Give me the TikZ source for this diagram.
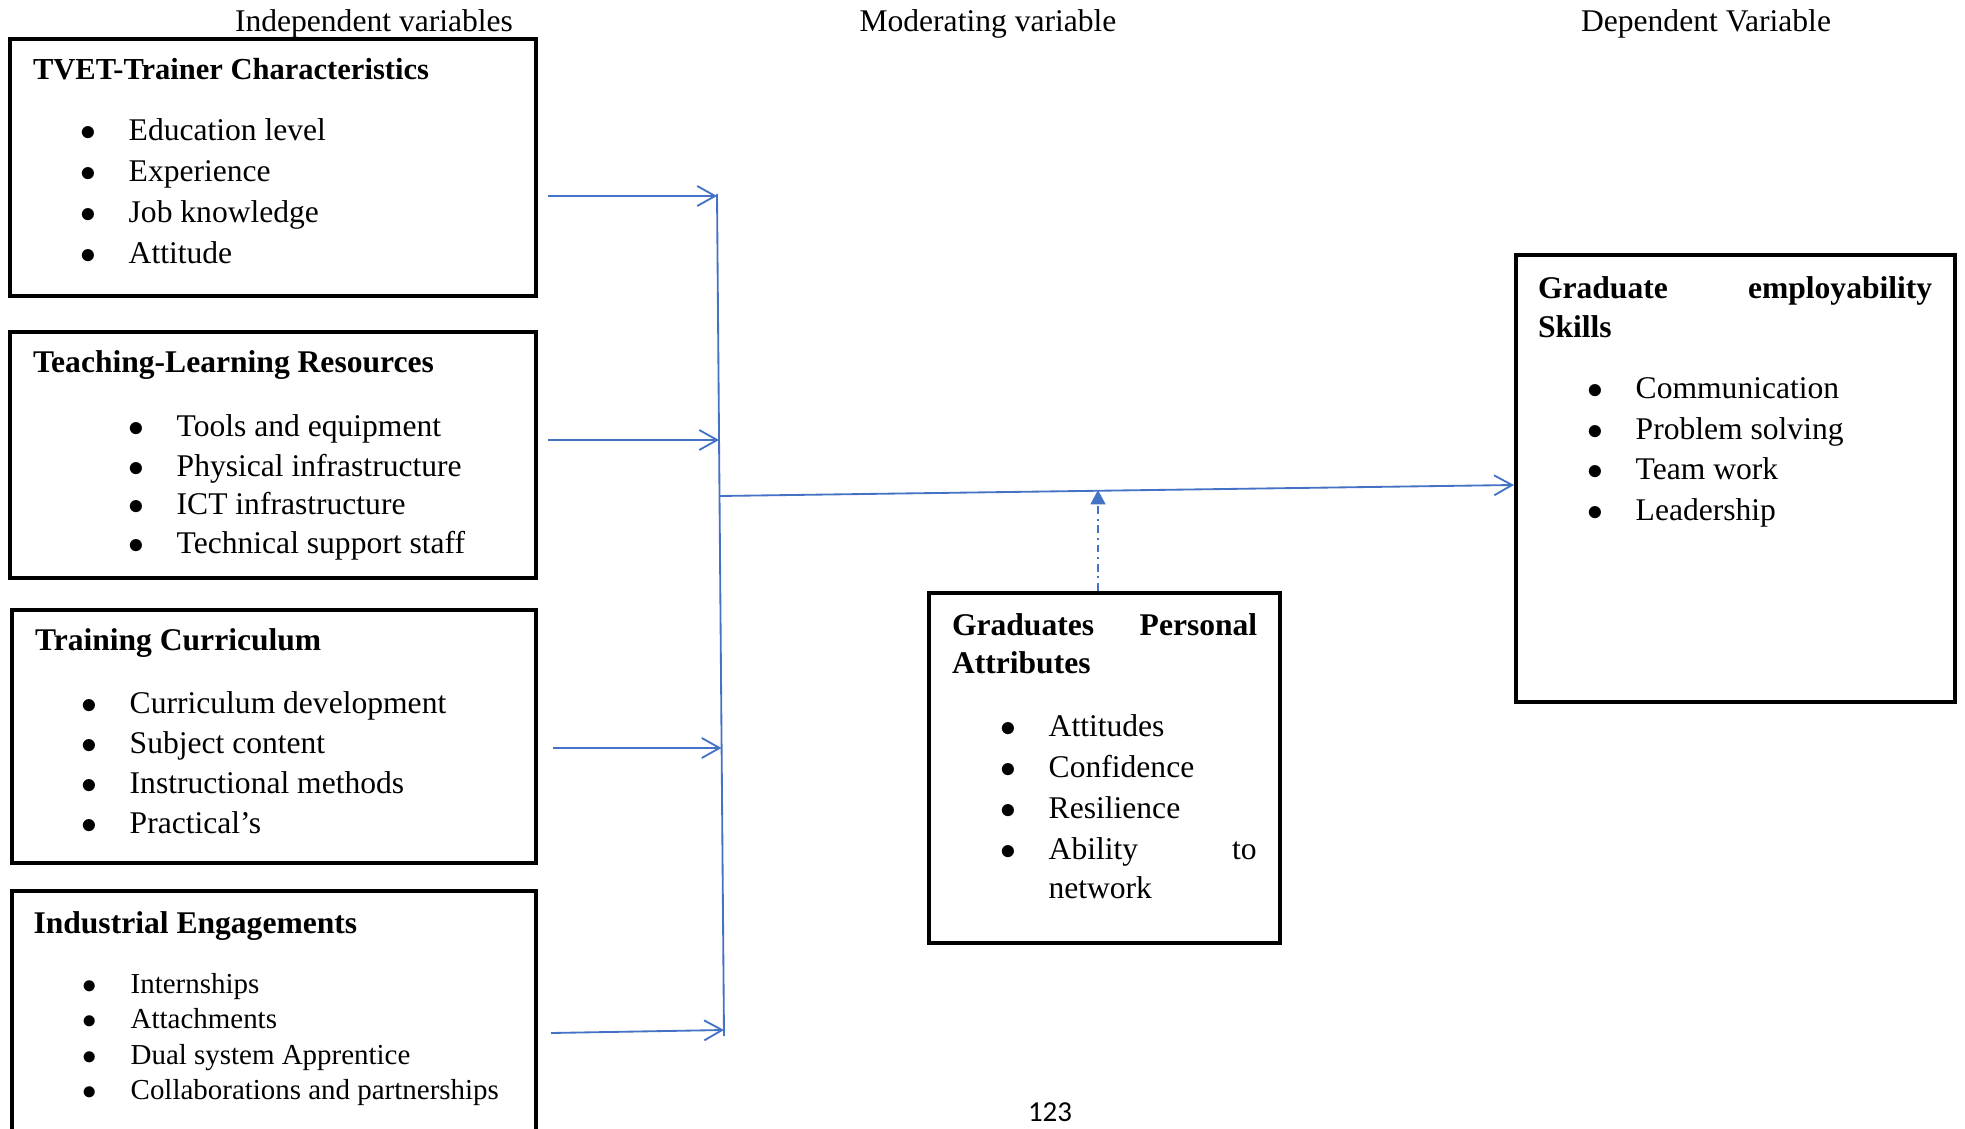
\documentclass[tikz,border=0pt]{standalone}
\usepackage{fontspec}
\setmainfont{Liberation Serif}
\newfontfamily\pagenumfont{Carlito}
\usepackage{tikz}
\usetikzlibrary{arrows.meta}
\definecolor{flowblue}{HTML}{4472C4}
\newcommand{\itemdot}{\makebox[18.5pt][l]{$\bullet$}}
\tikzset{
  font={\fontsize{12pt}{14pt}\selectfont}}

\begin{document}
\begin{tikzpicture}[x=0.38pt,y=-0.38pt]
\tikzstyle{every node}+=[inner sep=0pt]
\tikzstyle{varbox}=[draw=black, line width=1.6pt]
\tikzstyle{title}=[anchor=base west, font={\fontsize{12pt}{14pt}\selectfont\bfseries}]
\tikzstyle{item}=[anchor=base west]
\tikzstyle{smallitem}=[anchor=base west, font={\fontsize{11pt}{13pt}\selectfont}]
\tikzstyle{heading}=[anchor=base]
\tikzstyle{feed}=[draw=flowblue, line width=0.7pt, -{Straight Barb[length=6.8pt,width=7.6pt]}]
\tikzstyle{modline}=[draw=flowblue, line width=0.7pt, dash pattern=on 3pt off 1.8pt on 0.7pt off 1.8pt, -{Triangle[length=5.5pt,width=5.7pt]}]
\clip (0,0) rectangle (1965,1129);
% headings
\node[heading] (indep) at (374,32) {Independent variables};
\node[heading] (moder) at (988,32) {Moderating variable};
\node[heading] (depen) at (1706,32) {Dependent Variable};
% boxes
\node[varbox, minimum width=199.9pt, minimum height=97.7pt] (tvet) at (273,167.5) {};
\node[varbox, minimum width=199.9pt, minimum height=93.5pt] (res) at (273,455) {};
\node[varbox, minimum width=199.1pt, minimum height=96.1pt] (cur) at (274,736.5) {};
\node[varbox, minimum width=199.1pt, minimum height=98.8pt] (ind) at (274,1021) {};
\node[varbox, minimum width=133.4pt, minimum height=133pt] (attr) at (1104.5,768) {};
\node[varbox, minimum width=166.8pt, minimum height=169.9pt] (skills) at (1735.5,478.5) {};
% TVET trainer
\node[title, font={\fontsize{11.6pt}{13pt}\selectfont\bfseries}] (tvetT) at (32.5,80) {TVET-Trainer Characteristics};
\node[item] (tvet1) at (79.5,141) {\itemdot Education level};
\node[item] (tvet2) at (79.5,182) {\itemdot Experience};
\node[item] (tvet3) at (79.5,223) {\itemdot Job knowledge};
\node[item] (tvet4) at (79.5,264) {\itemdot Attitude};
% resources
\node[title] (resT) at (32.5,373) {Teaching-Learning Resources};
\node[item] (res1) at (127.5,437) {\itemdot Tools and equipment};
\node[item] (res2) at (127.5,477) {\itemdot Physical infrastructure};
\node[item] (res3) at (127.5,515) {\itemdot ICT infrastructure};
\node[item] (res4) at (127.5,554) {\itemdot Technical support staff};
% curriculum
\node[title] (curT) at (34.5,650) {Training Curriculum};
\node[item] (cur1) at (80.5,713) {\itemdot Curriculum development};
\node[item] (cur2) at (80.5,753) {\itemdot Subject content};
\node[item] (cur3) at (80.5,793) {\itemdot Instructional methods};
\node[item] (cur4) at (80.5,833) {\itemdot Practical’s};
% industry
\node[title] (indT) at (33,933) {Industrial Engagements};
\node[smallitem] (ind1) at (81.5,993) {\itemdot Internships};
\node[smallitem] (ind2) at (81.5,1028) {\itemdot Attachments};
\node[smallitem] (ind3) at (81.5,1064) {\itemdot Dual system Apprentice};
\node[smallitem] (ind4) at (81.5,1099) {\itemdot Collaborations and partnerships};
% personal attributes
\node[title] (attrT1) at (951.5,635) {\makebox[116pt][l]{Graduates\hfill Personal}};
\node[title] (attrT2) at (951.5,673) {Attributes};
\node[item] (attr1) at (999.5,736) {\itemdot Attitudes};
\node[item] (attr2) at (999.5,777) {\itemdot Confidence};
\node[item] (attr3) at (999.5,818) {\itemdot Resilience};
\node[item] (attr4) at (999.5,859) {\itemdot\makebox[79pt][l]{Ability\hfill to}};
\node[item] (attr5) at (1048,898) {network};
% employability
\node[title] (skillsT1) at (1537.5,299) {\makebox[149.8pt][l]{Graduate\hfill employability}};
\node[title] (skillsT2) at (1537.5,338) {Skills};
\node[item] (skills1) at (1586.5,399) {\itemdot Communication};
\node[item] (skills2) at (1586.5,440) {\itemdot Problem solving};
\node[item] (skills3) at (1586.5,480) {\itemdot Team work};
\node[item] (skills4) at (1586.5,521) {\itemdot Leadership};
% page number
\node[heading, font={\pagenumfont\fontsize{11pt}{13pt}\selectfont}] (pageno) at (1050,1121) {123};
% connectors
\coordinate (busTop) at (717,194);
\coordinate (busBot) at (724,1036);
\coordinate (tvetOut) at (548,196);
\coordinate (tvetIn) at (717,196);
\coordinate (resOut) at (548,440);
\coordinate (resIn) at (719,440);
\coordinate (curOut) at (553,748);
\coordinate (curIn) at (721.5,748);
\coordinate (indOut) at (551,1033);
\coordinate (indIn) at (724,1030);
\coordinate (joint) at (720,496);
\coordinate (skillsIn) at (1516,485);
\coordinate (modTip) at (1098,490);
\draw[feed] (tvetOut) -- (tvetIn);
\draw[feed] (resOut) -- (resIn);
\draw[feed] (curOut) -- (curIn);
\draw[feed] (indOut) -- (indIn);
\draw[draw=flowblue, line width=0.7pt] (busTop) -- (busBot);
\draw[feed] (joint) -- (skills.west |- skillsIn);
\draw[modline] (modTip |- attr.north) -- (modTip);
\end{tikzpicture}
\end{document}
